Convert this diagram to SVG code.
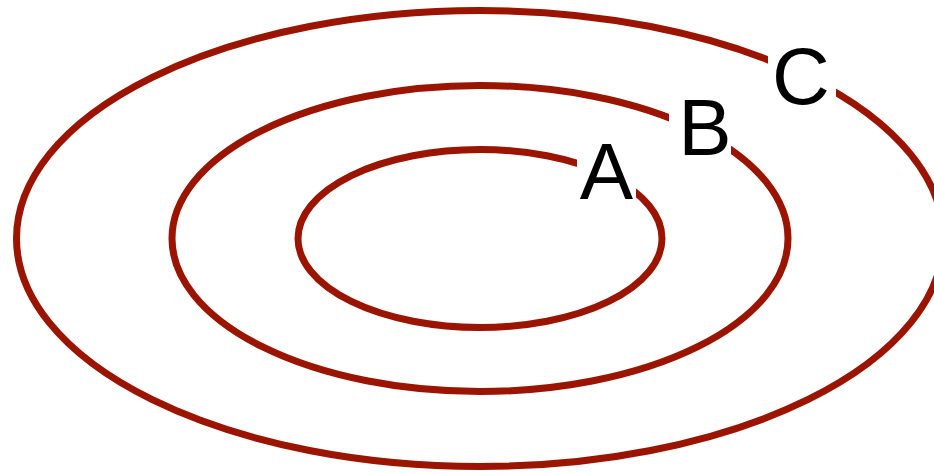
<svg xmlns="http://www.w3.org/2000/svg" width="934" height="473" viewBox="0 0 934 473">
<style>
.ring{fill:none;stroke:#9a1400;stroke-width:7}
.bg{fill:#fff}
.lbl{font-family:"Liberation Sans",Arial,sans-serif;font-size:80px;fill:#000;text-anchor:middle}
</style>
<rect width="934" height="473" fill="#fff"/>
<g id="C">
<ellipse class="ring" cx="480" cy="238.5" rx="463.5" ry="228"/>
<rect class="bg" x="768" y="36" width="68" height="74"/>
<text class="lbl" x="801" y="104">C</text>
</g>
<g id="B">
<ellipse class="ring" cx="480" cy="238.5" rx="308" ry="153"/>
<rect class="bg" x="669" y="92" width="62" height="70"/>
<text class="lbl" x="705" y="155">B</text>
</g>
<g id="A">
<ellipse class="ring" cx="480" cy="238.5" rx="182" ry="89"/>
<rect class="bg" x="577" y="133" width="59" height="72"/>
<text class="lbl" x="606.5" y="199">A</text>
</g>
<g id="connectors"/>
</svg>
